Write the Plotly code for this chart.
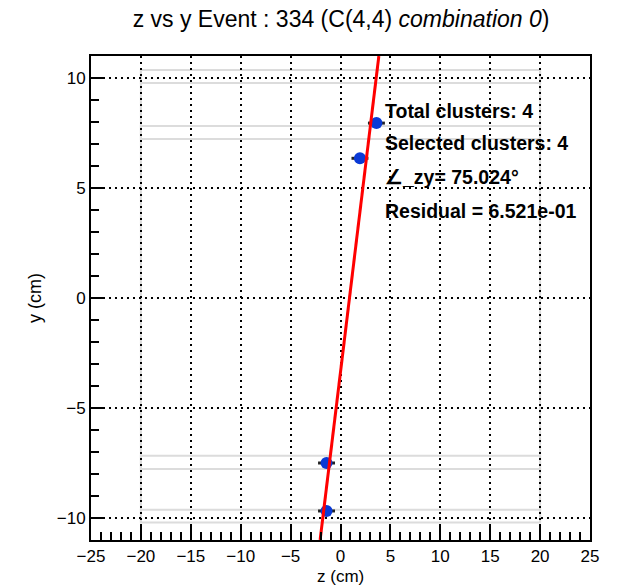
import math
import plotly.graph_objects as go

# Cluster positions (z, y) in cm with their z uncertainties
cluster_z = [3.6, 1.95, -1.4, -1.4]
cluster_y = [7.95, 6.35, -7.5, -9.68]
cluster_dz = [0.85, 0.85, 0.85, 0.85]

# Fitted track: z = z0 + y / tan(angle)
fit_angle_deg = 75.024
fit_z0 = 0.9
fit_y_ends = [-11.0, 11.0]

# Detector planes: (y_low, y_high), spanning z in [-20, 20]
plane_y_low = [-10.2, -7.77, 7.23, 9.77]
plane_y_high = [-9.62, -7.17, 7.82, 10.36]
plane_z = [-20.0, 20.0]

info_lines = [
    "Total clusters: 4",
    "Selected clusters: 4",
    "\u2220_zy= 75.024\u00b0",
    "Residual = 6.521e-01",
]
info_y = [8.5, 7.05, 5.5, 3.95]

x_range = [-25, 25]
y_range = [-11, 11]

slope = math.tan(math.radians(fit_angle_deg))
fit_z_ends = [fit_z0 + y / slope for y in fit_y_ends]

FONT = "Liberation Sans, Arial, Helvetica, sans-serif"
fig = go.Figure()

# detector outline
shapes = []
for lo, hi in zip(plane_y_low, plane_y_high):
    shapes.append(dict(type="rect", xref="x", yref="y", x0=plane_z[0], x1=plane_z[1],
                       y0=lo, y1=hi, line=dict(color="#dcdcdc", width=2), layer="below"))
for z in plane_z:
    shapes.append(dict(type="line", xref="x", yref="y", x0=z, x1=z,
                       y0=min(plane_y_low), y1=max(plane_y_high),
                       line=dict(color="#dcdcdc", width=2), layer="below"))

fig.add_trace(go.Scatter(
    x=cluster_z, y=cluster_y, mode="markers",
    marker=dict(color="#0a3ad6", size=12),
    error_x=dict(type="data", array=cluster_dz, color="#222222", thickness=3, width=0),
    showlegend=False,
))
fig.add_trace(go.Scatter(
    x=fit_z_ends, y=fit_y_ends, mode="lines",
    line=dict(color="#ff0000", width=3), showlegend=False,
))

annotations = []
for txt, yy in zip(info_lines, info_y):
    annotations.append(dict(x=4.3, y=yy, xref="x", yref="y", text=f"<b>{txt}</b>",
                            showarrow=False, xanchor="left", yanchor="middle",
                            font=dict(family=FONT, size=19.5, color="black")))

# x-axis title placed just under the tick labels
annotations.append(dict(x=0.5, y=0, xref="paper", yref="paper", text="z (cm)",
                        showarrow=False, xanchor="center", yanchor="top", yshift=-25,
                        font=dict(family=FONT, size=17, color="black")))

axis_common = dict(
    showline=True, linecolor="black", linewidth=2, mirror=True, automargin=False,
    ticks="inside", ticklen=14, tickwidth=1.5, tickcolor="black",
    showgrid=True, gridcolor="black", griddash="2px,4px", gridwidth=1.5,
    zeroline=False, tickfont=dict(family=FONT, size=17, color="black"),
    minor=dict(ticks="inside", ticklen=8, tickwidth=1.5, tickcolor="black", dtick=1, showgrid=False),
)

fig.update_layout(
    width=619, height=585,
    margin=dict(l=91, r=29, t=56, b=45),
    paper_bgcolor="white", plot_bgcolor="white",
    title=dict(text="z vs y Event : 334 (C(4,4) <i>combination 0</i>)",
               x=0.551, xanchor="center", y=0.968, yanchor="middle",
               font=dict(family=FONT, size=23, color="black")),
    xaxis=dict(range=x_range, dtick=5, tick0=0, **axis_common),
    yaxis=dict(range=y_range, dtick=5, tick0=0,
               title=dict(text="y (cm)", font=dict(family=FONT, size=18, color="black"), standoff=10),
               **axis_common),
    shapes=shapes, annotations=annotations,
)

fig.write_html("out.html")
